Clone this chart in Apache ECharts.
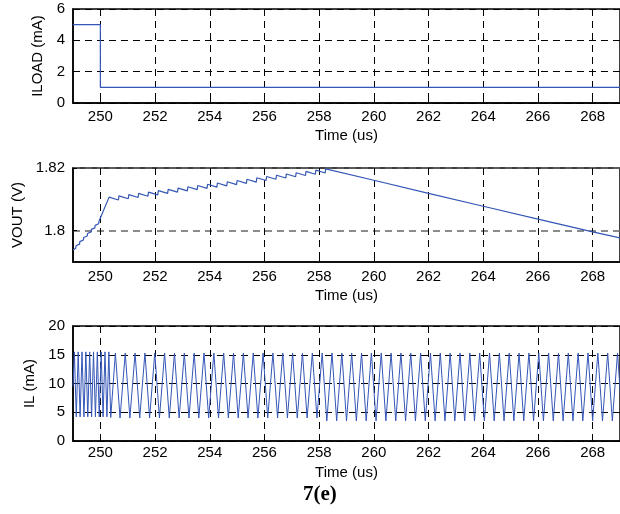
<!DOCTYPE html>
<html>
<head>
<meta charset="utf-8">
<script src="https://cdn.jsdelivr.net/npm/echarts@6/dist/echarts.min.js"></script>
<style>
  html, body { margin: 0; padding: 0; background: #fff; }
  #chart { width: 620px; height: 514px; }
</style>
</head>
<body>
<div id="chart"></div>
<script>
// Time axis ticks (us), shared by the three panels
const timeTicks = [250, 252, 254, 256, 258, 260, 262, 264, 266, 268];
const iloadTicks = [0, 2, 4, 6];
const voutTicks = [1.8, 1.82];
const ilTicks = [0, 5, 10, 15, 20];

// Load current step (us, mA)
const iloadPoints = [[249, 5], [250, 5], [250, 1], [269, 1]];

// Output voltage (us, V)
const voutPoints = [
  [249.00, 1.7938],
  [249.10, 1.7944], [249.11, 1.7952],
  [249.24, 1.7957], [249.25, 1.7965],
  [249.38, 1.7970], [249.39, 1.7978],
  [249.52, 1.7983], [249.53, 1.7991],
  [249.66, 1.7996], [249.67, 1.8004],
  [249.80, 1.8009], [249.81, 1.8017],
  [249.94, 1.8022], [249.95, 1.8030],
  [250.32, 1.8107],
  [250.66, 1.8098], [250.68, 1.8111],
  [251.02, 1.8102], [251.04, 1.8115],
  [251.38, 1.8106], [251.40, 1.8119],
  [251.74, 1.8110], [251.76, 1.8123],
  [252.10, 1.8114], [252.12, 1.8128],
  [252.46, 1.8119], [252.48, 1.8132],
  [252.82, 1.8123], [252.84, 1.8136],
  [253.18, 1.8127], [253.20, 1.8140],
  [253.54, 1.8131], [253.56, 1.8144],
  [253.90, 1.8135], [253.92, 1.8148],
  [254.26, 1.8139], [254.28, 1.8152],
  [254.62, 1.8143], [254.64, 1.8156],
  [254.98, 1.8147], [255.00, 1.8160],
  [255.34, 1.8151], [255.36, 1.8164],
  [255.70, 1.8155], [255.72, 1.8169],
  [256.06, 1.8160], [256.08, 1.8173],
  [256.42, 1.8164], [256.44, 1.8177],
  [256.78, 1.8168], [256.80, 1.8181],
  [257.14, 1.8172], [257.16, 1.8185],
  [257.50, 1.8176], [257.52, 1.8189],
  [257.86, 1.8180], [257.88, 1.8193],
  [258.22, 1.8184], [258.24, 1.8197],
  [260.00, 1.8161], [262.00, 1.8119], [264.00, 1.8078],
  [266.00, 1.8037], [268.00, 1.7996], [269.00, 1.7977]
];

// Inductor current (us, mA)
const ilPoints = [
  [249.00, 9.5], [249.05, 15.5], [249.12, 4.2], [249.19, 15.5], [249.26, 4.2],
  [249.33, 15.5], [249.40, 4.2], [249.47, 15.5], [249.54, 4.2], [249.61, 15.5],
  [249.68, 4.2], [249.75, 15.5], [249.82, 4.2], [249.89, 15.5], [249.96, 4.2],
  [250.03, 15.5], [250.10, 4.2], [250.17, 15.5], [250.24, 4.2], [250.31, 15.5],
  [250.38, 4.1],
  [250.55, 15.3], [250.72, 4.0], [250.91, 15.3], [251.08, 4.0],
  [251.27, 15.3], [251.44, 4.0], [251.63, 15.3], [251.80, 4.0],
  [251.99, 15.3], [252.16, 4.0], [252.35, 15.3], [252.52, 4.0],
  [252.71, 15.3], [252.88, 4.0], [253.07, 15.3], [253.24, 4.0],
  [253.43, 15.3], [253.60, 4.0], [253.79, 15.3], [253.96, 4.0],
  [254.15, 15.3], [254.32, 4.0], [254.51, 15.3], [254.68, 4.0],
  [254.87, 15.3], [255.04, 4.0], [255.23, 15.3], [255.40, 4.0],
  [255.59, 15.3], [255.76, 4.0], [255.95, 15.3], [256.12, 4.0],
  [256.31, 15.3], [256.48, 4.0], [256.67, 15.3], [256.84, 4.0],
  [257.03, 15.3], [257.20, 4.0], [257.39, 15.3], [257.56, 4.0],
  [257.75, 15.3], [257.92, 4.0], [258.11, 15.3], [258.28, 3.5],
  [258.47, 15.3], [258.64, 3.5], [258.83, 15.3], [259.00, 3.5],
  [259.19, 15.3], [259.36, 3.5], [259.55, 15.3], [259.72, 3.5],
  [259.91, 15.3], [260.08, 3.5], [260.27, 15.3], [260.44, 3.5],
  [260.63, 15.3], [260.80, 3.5], [260.99, 15.3], [261.16, 3.5],
  [261.35, 15.3], [261.52, 3.5], [261.71, 15.3], [261.88, 3.5],
  [262.07, 15.3], [262.24, 3.5], [262.43, 15.3], [262.60, 3.5],
  [262.79, 15.3], [262.96, 3.5], [263.15, 15.3], [263.32, 3.5],
  [263.51, 15.3], [263.68, 3.5], [263.87, 15.3], [264.04, 3.5],
  [264.23, 15.3], [264.40, 3.5], [264.59, 15.3], [264.76, 3.5],
  [264.95, 15.3], [265.12, 3.5], [265.31, 15.3], [265.48, 3.5],
  [265.67, 15.3], [265.84, 3.5], [266.03, 15.3], [266.20, 3.5],
  [266.39, 15.3], [266.56, 3.5], [266.75, 15.3], [266.92, 3.5],
  [267.11, 15.3], [267.28, 3.5], [267.47, 15.3], [267.64, 3.5],
  [267.83, 15.3], [268.00, 3.5], [268.19, 15.3], [268.36, 3.5],
  [268.55, 15.3], [268.72, 3.5], [268.91, 15.3], [269.08, 3.5]
];

const FONT = "'Liberation Sans', Arial, sans-serif";
const LINE_BLUE = '#3456b6';
const dashed = [7, 5];

const panels = [
  { top: 9,   height: 94,  name: 'ILOAD (mA)', nameGap: 25, min: 0,    max: 6,    ticks: iloadTicks, gridColor: '#000', labelMargin: 6, xNameGap: 25 },
  { top: 168, height: 94,  name: 'VOUT (V)',   nameGap: 48, min: 1.79, max: 1.82, ticks: voutTicks,  gridColor: '#666', labelMargin: 7, xNameGap: 26 },
  { top: 326, height: 115, name: 'IL (mA)',    nameGap: 33, min: 0,    max: 20,   ticks: ilTicks,    gridColor: '#000', labelMargin: 4, xNameGap: 24 }
];

const grids = panels.map(p => ({
  left: 73, top: p.top, width: 551, height: p.height,
  show: true, borderColor: '#000', borderWidth: 1.5
}));

const xAxes = panels.map((p, i) => ({
  type: 'value', gridIndex: i, min: 249, max: 269,
  name: 'Time (us)', nameLocation: 'middle', nameGap: p.xNameGap,
  nameTextStyle: { fontFamily: FONT, fontSize: 15, color: '#000' },
  axisLine: { show: true, onZero: false, lineStyle: { color: '#000', width: 1.5 } },
  axisTick: { show: true, inside: true, length: 4, customValues: timeTicks, lineStyle: { color: '#000' } },
  axisLabel: { customValues: timeTicks, fontFamily: FONT, fontSize: 15, color: '#000', margin: p.labelMargin },
  splitLine: { show: true, lineStyle: { color: '#000', width: 1, type: dashed } }
}));

const yAxes = panels.map((p, i) => ({
  type: 'value', gridIndex: i, min: p.min, max: p.max,
  name: p.name, nameLocation: 'middle', nameGap: p.nameGap, nameRotate: 90,
  nameTextStyle: { fontFamily: FONT, fontSize: 15, color: '#000' },
  axisLine: { show: true, onZero: false, lineStyle: { color: '#000', width: 1.5 } },
  axisTick: { show: true, inside: true, length: 4, customValues: p.ticks, lineStyle: { color: '#000' } },
  axisLabel: { customValues: p.ticks, fontFamily: FONT, fontSize: 15, color: '#000', margin: 8 },
  splitLine: { show: true, lineStyle: { color: p.gridColor, width: i === 1 ? 1.5 : 1, type: dashed } }
}));

const lineSeries = (data, idx, width) => ({
  type: 'line', xAxisIndex: idx, yAxisIndex: idx, data: data,
  showSymbol: false, symbol: 'none', clip: true, animation: false,
  lineStyle: { color: LINE_BLUE, width: width }
});

const chart = echarts.init(document.getElementById('chart'), null, { renderer: 'canvas' });
chart.setOption({
  backgroundColor: '#fff',
  animation: false,
  grid: grids,
  xAxis: xAxes,
  yAxis: yAxes,
  series: [
    lineSeries(iloadPoints, 0, 1.2),
    lineSeries(voutPoints, 1, 1.2),
    lineSeries(ilPoints, 2, 1)
  ],
  graphic: [{
    type: 'text', left: 303, top: 484,
    style: { text: '7(e)', font: "bold 21px 'Liberation Serif', 'Times New Roman', serif", fill: '#000' }
  }]
});
</script>
</body>
</html>
